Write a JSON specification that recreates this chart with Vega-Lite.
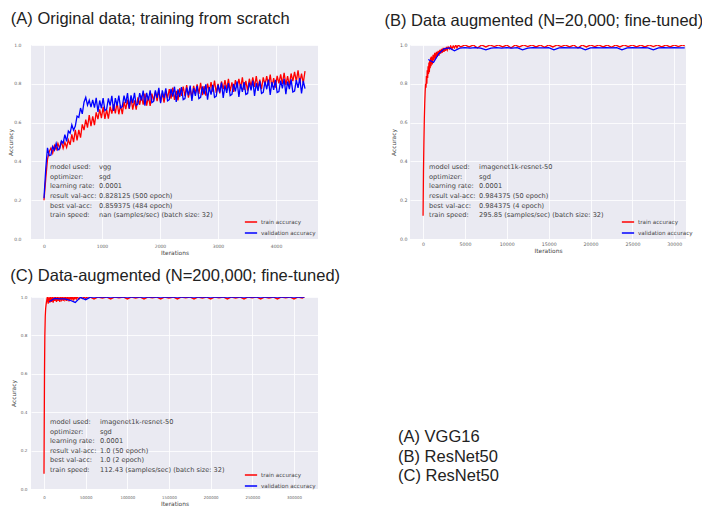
{
"$schema": "https://vega.github.io/schema/vega-lite/v6.json",
"background": "white",
"padding": {"left": 7, "top": 10, "right": 5, "bottom": 0},
"datasets": {
"A_train": [{"i":0,"a":0.20},{"i":30,"a":0.31},{"i":60,"a":0.41},{"i":90,"a":0.45},{"i":120,"a":0.469},{"i":150,"a":0.443},{"i":180,"a":0.482},{"i":210,"a":0.462},{"i":240,"a":0.493},{"i":270,"a":0.466},{"i":300,"a":0.503},{"i":330,"a":0.468},{"i":360,"a":0.498},{"i":390,"a":0.472},{"i":420,"a":0.511},{"i":450,"a":0.485},{"i":480,"a":0.539},{"i":510,"a":0.499},{"i":540,"a":0.563},{"i":570,"a":0.508},{"i":600,"a":0.562},{"i":630,"a":0.522},{"i":660,"a":0.591},{"i":690,"a":0.561},{"i":720,"a":0.615},{"i":750,"a":0.574},{"i":780,"a":0.639},{"i":810,"a":0.582},{"i":840,"a":0.632},{"i":870,"a":0.587},{"i":900,"a":0.653},{"i":930,"a":0.618},{"i":960,"a":0.668},{"i":990,"a":0.623},{"i":1020,"a":0.681},{"i":1050,"a":0.619},{"i":1080,"a":0.667},{"i":1110,"a":0.620},{"i":1140,"a":0.683},{"i":1170,"a":0.646},{"i":1200,"a":0.694},{"i":1230,"a":0.647},{"i":1260,"a":0.705},{"i":1290,"a":0.643},{"i":1320,"a":0.691},{"i":1350,"a":0.644},{"i":1380,"a":0.707},{"i":1410,"a":0.670},{"i":1440,"a":0.718},{"i":1470,"a":0.671},{"i":1500,"a":0.730},{"i":1530,"a":0.667},{"i":1560,"a":0.715},{"i":1590,"a":0.667},{"i":1620,"a":0.730},{"i":1650,"a":0.692},{"i":1680,"a":0.739},{"i":1710,"a":0.692},{"i":1740,"a":0.749},{"i":1770,"a":0.687},{"i":1800,"a":0.734},{"i":1830,"a":0.686},{"i":1860,"a":0.749},{"i":1890,"a":0.711},{"i":1920,"a":0.759},{"i":1950,"a":0.711},{"i":1980,"a":0.769},{"i":2010,"a":0.705},{"i":2040,"a":0.752},{"i":2070,"a":0.703},{"i":2100,"a":0.765},{"i":2130,"a":0.726},{"i":2160,"a":0.773},{"i":2190,"a":0.724},{"i":2220,"a":0.781},{"i":2250,"a":0.717},{"i":2280,"a":0.764},{"i":2310,"a":0.715},{"i":2340,"a":0.777},{"i":2370,"a":0.738},{"i":2400,"a":0.785},{"i":2430,"a":0.736},{"i":2460,"a":0.793},{"i":2490,"a":0.729},{"i":2520,"a":0.776},{"i":2550,"a":0.727},{"i":2580,"a":0.789},{"i":2610,"a":0.750},{"i":2640,"a":0.797},{"i":2670,"a":0.748},{"i":2700,"a":0.805},{"i":2730,"a":0.741},{"i":2760,"a":0.788},{"i":2790,"a":0.739},{"i":2820,"a":0.801},{"i":2850,"a":0.762},{"i":2880,"a":0.809},{"i":2910,"a":0.760},{"i":2940,"a":0.817},{"i":2970,"a":0.753},{"i":3000,"a":0.800},{"i":3030,"a":0.751},{"i":3060,"a":0.812},{"i":3090,"a":0.773},{"i":3120,"a":0.819},{"i":3150,"a":0.770},{"i":3180,"a":0.826},{"i":3210,"a":0.761},{"i":3240,"a":0.807},{"i":3270,"a":0.758},{"i":3300,"a":0.819},{"i":3330,"a":0.780},{"i":3360,"a":0.826},{"i":3390,"a":0.777},{"i":3420,"a":0.833},{"i":3450,"a":0.769},{"i":3480,"a":0.815},{"i":3510,"a":0.765},{"i":3540,"a":0.826},{"i":3570,"a":0.787},{"i":3600,"a":0.833},{"i":3630,"a":0.784},{"i":3660,"a":0.840},{"i":3690,"a":0.776},{"i":3720,"a":0.822},{"i":3750,"a":0.772},{"i":3780,"a":0.833},{"i":3810,"a":0.794},{"i":3840,"a":0.840},{"i":3870,"a":0.791},{"i":3900,"a":0.847},{"i":3930,"a":0.783},{"i":3960,"a":0.829},{"i":3990,"a":0.780},{"i":4020,"a":0.841},{"i":4050,"a":0.802},{"i":4080,"a":0.849},{"i":4110,"a":0.800},{"i":4140,"a":0.857},{"i":4170,"a":0.793},{"i":4200,"a":0.840},{"i":4230,"a":0.791},{"i":4260,"a":0.853},{"i":4290,"a":0.814},{"i":4320,"a":0.861},{"i":4350,"a":0.812},{"i":4380,"a":0.869},{"i":4410,"a":0.805},{"i":4440,"a":0.852},{"i":4470,"a":0.803},{"i":4500,"a":0.865}],
"A_val": [{"i":0,"a":0.21},{"i":30,"a":0.36},{"i":60,"a":0.47},{"i":90,"a":0.43},{"i":120,"a":0.433},{"i":150,"a":0.477},{"i":180,"a":0.458},{"i":210,"a":0.493},{"i":240,"a":0.459},{"i":270,"a":0.467},{"i":300,"a":0.505},{"i":330,"a":0.494},{"i":360,"a":0.538},{"i":390,"a":0.503},{"i":420,"a":0.556},{"i":450,"a":0.545},{"i":480,"a":0.589},{"i":510,"a":0.561},{"i":540,"a":0.582},{"i":570,"a":0.633},{"i":600,"a":0.627},{"i":630,"a":0.675},{"i":660,"a":0.645},{"i":690,"a":0.705},{"i":720,"a":0.73},{"i":750,"a":0.69},{"i":780,"a":0.715},{"i":810,"a":0.68},{"i":840,"a":0.717},{"i":870,"a":0.677},{"i":900,"a":0.728},{"i":930,"a":0.655},{"i":960,"a":0.714},{"i":990,"a":0.674},{"i":1020,"a":0.726},{"i":1050,"a":0.662},{"i":1080,"a":0.669},{"i":1110,"a":0.725},{"i":1140,"a":0.687},{"i":1170,"a":0.738},{"i":1200,"a":0.660},{"i":1230,"a":0.726},{"i":1260,"a":0.688},{"i":1290,"a":0.739},{"i":1320,"a":0.676},{"i":1350,"a":0.682},{"i":1380,"a":0.739},{"i":1410,"a":0.700},{"i":1440,"a":0.752},{"i":1470,"a":0.673},{"i":1500,"a":0.740},{"i":1530,"a":0.701},{"i":1560,"a":0.753},{"i":1590,"a":0.689},{"i":1620,"a":0.696},{"i":1650,"a":0.752},{"i":1680,"a":0.714},{"i":1710,"a":0.765},{"i":1740,"a":0.687},{"i":1770,"a":0.753},{"i":1800,"a":0.715},{"i":1830,"a":0.766},{"i":1860,"a":0.703},{"i":1890,"a":0.709},{"i":1920,"a":0.766},{"i":1950,"a":0.727},{"i":1980,"a":0.779},{"i":2010,"a":0.700},{"i":2040,"a":0.766},{"i":2070,"a":0.726},{"i":2100,"a":0.777},{"i":2130,"a":0.712},{"i":2160,"a":0.718},{"i":2190,"a":0.774},{"i":2220,"a":0.734},{"i":2250,"a":0.785},{"i":2280,"a":0.706},{"i":2310,"a":0.771},{"i":2340,"a":0.732},{"i":2370,"a":0.783},{"i":2400,"a":0.718},{"i":2430,"a":0.724},{"i":2460,"a":0.780},{"i":2490,"a":0.740},{"i":2520,"a":0.791},{"i":2550,"a":0.712},{"i":2580,"a":0.777},{"i":2610,"a":0.738},{"i":2640,"a":0.789},{"i":2670,"a":0.724},{"i":2700,"a":0.730},{"i":2730,"a":0.786},{"i":2760,"a":0.746},{"i":2790,"a":0.797},{"i":2820,"a":0.718},{"i":2850,"a":0.783},{"i":2880,"a":0.744},{"i":2910,"a":0.795},{"i":2940,"a":0.730},{"i":2970,"a":0.736},{"i":3000,"a":0.795},{"i":3030,"a":0.756},{"i":3060,"a":0.806},{"i":3090,"a":0.727},{"i":3120,"a":0.792},{"i":3150,"a":0.753},{"i":3180,"a":0.804},{"i":3210,"a":0.739},{"i":3240,"a":0.745},{"i":3270,"a":0.800},{"i":3300,"a":0.761},{"i":3330,"a":0.812},{"i":3360,"a":0.732},{"i":3390,"a":0.798},{"i":3420,"a":0.758},{"i":3450,"a":0.809},{"i":3480,"a":0.745},{"i":3510,"a":0.750},{"i":3540,"a":0.806},{"i":3570,"a":0.766},{"i":3600,"a":0.817},{"i":3630,"a":0.738},{"i":3660,"a":0.803},{"i":3690,"a":0.764},{"i":3720,"a":0.814},{"i":3750,"a":0.750},{"i":3780,"a":0.756},{"i":3810,"a":0.811},{"i":3840,"a":0.772},{"i":3870,"a":0.822},{"i":3900,"a":0.743},{"i":3930,"a":0.809},{"i":3960,"a":0.769},{"i":3990,"a":0.820},{"i":4020,"a":0.755},{"i":4050,"a":0.760},{"i":4080,"a":0.816},{"i":4110,"a":0.776},{"i":4140,"a":0.826},{"i":4170,"a":0.747},{"i":4200,"a":0.812},{"i":4230,"a":0.772},{"i":4260,"a":0.823},{"i":4290,"a":0.758},{"i":4320,"a":0.763},{"i":4350,"a":0.819},{"i":4380,"a":0.779},{"i":4410,"a":0.829},{"i":4440,"a":0.750},{"i":4470,"a":0.815},{"i":4500,"a":0.775}],
"B_train": [{"i":0,"a":0.12},{"i":50,"a":0.35},{"i":100,"a":0.5},{"i":150,"a":0.62},{"i":200,"a":0.70},{"i":250,"a":0.76},{"i":300,"a":0.80},{"i":350,"a":0.78},{"i":400,"a":0.84},{"i":450,"a":0.80},{"i":500,"a":0.87},{"i":550,"a":0.83},{"i":600,"a":0.89},{"i":650,"a":0.85},{"i":700,"a":0.91},{"i":750,"a":0.86},{"i":800,"a":0.92},{"i":850,"a":0.88},{"i":900,"a":0.935},{"i":950,"a":0.89},{"i":1000,"a":0.94},{"i":1100,"a":0.90},{"i":1200,"a":0.95},{"i":1300,"a":0.92},{"i":1400,"a":0.96},{"i":1500,"a":0.93},{"i":1600,"a":0.965},{"i":1700,"a":0.94},{"i":1800,"a":0.97},{"i":1900,"a":0.945},{"i":2000,"a":0.975},{"i":2100,"a":0.955},{"i":2200,"a":0.98},{"i":2300,"a":0.96},{"i":2400,"a":0.985},{"i":2500,"a":0.965},{"i":2600,"a":0.985},{"i":2700,"a":0.97},{"i":2800,"a":0.99},{"i":2900,"a":0.975},{"i":3000,"a":0.99},{"i":3150,"a":0.98},{"i":3300,"a":0.995},{"i":3450,"a":0.98},{"i":3600,"a":0.995},{"i":3750,"a":0.985},{"i":3900,"a":1.0},{"i":4050,"a":0.985},{"i":4200,"a":1.0},{"i":4500,"a":0.99},{"i":5000,"a":1.0},{"i":5500,"a":0.99},{"i":6000,"a":1.0},{"i":6500,"a":0.985},{"i":7000,"a":1.0},{"i":7500,"a":0.99},{"i":8000,"a":1.0},{"i":8500,"a":0.992},{"i":9000,"a":1.0},{"i":9500,"a":0.99},{"i":10000,"a":1.0},{"i":10500,"a":0.985},{"i":11000,"a":1.0},{"i":11500,"a":0.99},{"i":12000,"a":1.0},{"i":12500,"a":0.992},{"i":13000,"a":1.0},{"i":13500,"a":0.99},{"i":14000,"a":1.0},{"i":14500,"a":0.988},{"i":15000,"a":1.0},{"i":15500,"a":0.99},{"i":16000,"a":1.0},{"i":16500,"a":0.992},{"i":17000,"a":1.0},{"i":17500,"a":0.99},{"i":18000,"a":1.0},{"i":18500,"a":0.985},{"i":19000,"a":1.0},{"i":19500,"a":0.99},{"i":20000,"a":1.0},{"i":20500,"a":0.992},{"i":21000,"a":1.0},{"i":21500,"a":0.99},{"i":22000,"a":1.0},{"i":22500,"a":0.988},{"i":23000,"a":1.0},{"i":23500,"a":0.99},{"i":24000,"a":1.0},{"i":24500,"a":0.992},{"i":25000,"a":1.0},{"i":25500,"a":0.99},{"i":26000,"a":1.0},{"i":26500,"a":0.99},{"i":27000,"a":1.0},{"i":27500,"a":0.992},{"i":28000,"a":1.0},{"i":28500,"a":0.99},{"i":29000,"a":1.0},{"i":29500,"a":0.99},{"i":30000,"a":1.0},{"i":30500,"a":0.992},{"i":31000,"a":1.0},{"i":31250,"a":0.995}],
"B_val": [{"i":625,"a":0.925},{"i":1250,"a":0.91},{"i":1875,"a":0.955},{"i":2500,"a":0.98},{"i":3125,"a":0.985},{"i":3750,"a":0.97},{"i":4375,"a":0.984},{"i":5000,"a":0.986},{"i":5625,"a":0.984},{"i":6250,"a":0.986},{"i":6875,"a":0.984},{"i":7500,"a":0.975},{"i":8125,"a":0.984},{"i":8750,"a":0.986},{"i":9375,"a":0.984},{"i":10000,"a":0.986},{"i":10625,"a":0.984},{"i":11250,"a":0.986},{"i":11875,"a":0.975},{"i":12500,"a":0.984},{"i":13125,"a":0.986},{"i":13750,"a":0.985},{"i":14375,"a":0.985},{"i":15000,"a":0.986},{"i":15625,"a":0.975},{"i":16250,"a":0.985},{"i":16875,"a":0.986},{"i":17500,"a":0.985},{"i":18125,"a":0.985},{"i":18750,"a":0.986},{"i":19375,"a":0.975},{"i":20000,"a":0.985},{"i":20625,"a":0.986},{"i":21250,"a":0.985},{"i":21875,"a":0.986},{"i":22500,"a":0.985},{"i":23125,"a":0.986},{"i":23750,"a":0.975},{"i":24375,"a":0.985},{"i":25000,"a":0.986},{"i":25625,"a":0.985},{"i":26250,"a":0.986},{"i":26875,"a":0.985},{"i":27500,"a":0.975},{"i":28125,"a":0.985},{"i":28750,"a":0.986},{"i":29375,"a":0.985},{"i":30000,"a":0.986},{"i":30625,"a":0.985},{"i":31250,"a":0.985}],
"C_train": [{"i":0,"a":0.08},{"i":300,"a":0.35},{"i":600,"a":0.6},{"i":1000,"a":0.8},{"i":1500,"a":0.9},{"i":2000,"a":0.94},{"i":2500,"a":0.96},{"i":3000,"a":0.975},{"i":4000,"a":1.0},{"i":5000,"a":0.965},{"i":6000,"a":1.0},{"i":7000,"a":0.97},{"i":8000,"a":1.0},{"i":9000,"a":0.975},{"i":10000,"a":1.0},{"i":11000,"a":0.97},{"i":12000,"a":1.0},{"i":13000,"a":0.98},{"i":14000,"a":1.0},{"i":15000,"a":0.975},{"i":16000,"a":1.0},{"i":17000,"a":0.98},{"i":18000,"a":1.0},{"i":19000,"a":0.975},{"i":20000,"a":1.0},{"i":21000,"a":0.985},{"i":22000,"a":1.0},{"i":23000,"a":0.98},{"i":24000,"a":1.0},{"i":25000,"a":0.985},{"i":26000,"a":1.0},{"i":27000,"a":0.98},{"i":28000,"a":1.0},{"i":29000,"a":0.985},{"i":30000,"a":1.0},{"i":31000,"a":0.985},{"i":32000,"a":1.0},{"i":33000,"a":0.99},{"i":34000,"a":1.0},{"i":35000,"a":0.985},{"i":36000,"a":1.0},{"i":37000,"a":0.99},{"i":38000,"a":1.0},{"i":39000,"a":0.99},{"i":40000,"a":1.0},{"i":42000,"a":0.99},{"i":44000,"a":1.0},{"i":46000,"a":0.992},{"i":48000,"a":1.0},{"i":50000,"a":0.993},{"i":52000,"a":1.0},{"i":55000,"a":1.0},{"i":60000,"a":0.99},{"i":65000,"a":1.0},{"i":70000,"a":0.995},{"i":75000,"a":1.0},{"i":80000,"a":0.99},{"i":85000,"a":1.0},{"i":90000,"a":0.996},{"i":95000,"a":1.0},{"i":100000,"a":0.99},{"i":105000,"a":1.0},{"i":110000,"a":0.995},{"i":115000,"a":1.0},{"i":120000,"a":0.99},{"i":125000,"a":1.0},{"i":130000,"a":0.996},{"i":135000,"a":1.0},{"i":140000,"a":0.99},{"i":145000,"a":1.0},{"i":150000,"a":0.995},{"i":155000,"a":1.0},{"i":160000,"a":0.99},{"i":165000,"a":1.0},{"i":170000,"a":0.996},{"i":175000,"a":1.0},{"i":180000,"a":0.99},{"i":185000,"a":1.0},{"i":190000,"a":0.995},{"i":195000,"a":1.0},{"i":200000,"a":0.99},{"i":205000,"a":1.0},{"i":210000,"a":0.996},{"i":215000,"a":1.0},{"i":220000,"a":0.99},{"i":225000,"a":1.0},{"i":230000,"a":0.995},{"i":235000,"a":1.0},{"i":240000,"a":0.99},{"i":245000,"a":1.0},{"i":250000,"a":0.996},{"i":255000,"a":1.0},{"i":260000,"a":0.99},{"i":265000,"a":1.0},{"i":270000,"a":0.995},{"i":275000,"a":1.0},{"i":280000,"a":0.99},{"i":285000,"a":1.0},{"i":290000,"a":0.996},{"i":295000,"a":1.0},{"i":300000,"a":0.99},{"i":305000,"a":1.0},{"i":310000,"a":0.995},{"i":312500,"a":1.0}],
"C_val": [{"i":6250,"a":0.975},{"i":12500,"a":0.993},{"i":18750,"a":0.99},{"i":25000,"a":0.99},{"i":31250,"a":0.983},{"i":37500,"a":0.972},{"i":43750,"a":0.998},{"i":50000,"a":0.986},{"i":56250,"a":1.0},{"i":62500,"a":1.0},{"i":100000,"a":1.0},{"i":150000,"a":1.0},{"i":200000,"a":1.0},{"i":250000,"a":1.0},{"i":312500,"a":1.0}]
},
"spacing": 13,
"resolve": {"scale": {"color": "independent"}, "legend": {"color": "independent"}},
"vconcat": [
{
"hconcat": [
{
"width": 287, "height": 194,
"title": {"text": "(A) Original data; training from scratch", "anchor": "start", "frame": "bounds", "offset": 2, "dx": 3, "baseline": "alphabetic"},
"layer": [
{"data": {"name": "A_train"}, "mark": {"type": "line", "strokeWidth": 1.3, "clip": true},
 "encoding": {
  "x": {"field": "i", "type": "quantitative", "scale": {"domain": [-224, 4724], "nice": false, "zero": false},
        "axis": {"title": "Iterations", "values": [0, 1000, 2000, 3000, 4000], "tickCount": 50, "format": "d", "labelFontSize": 4.5, "titleFontSize": 5.9, "labelPadding": 4, "titlePadding": 1.5, "labelOverlap": false}},
  "y": {"field": "a", "type": "quantitative", "scale": {"domain": [0, 1], "nice": false},
        "axis": {"title": "Accuracy", "values": [0, 0.2, 0.4, 0.6, 0.8, 1], "tickCount": 50, "format": ".1f", "labelFontSize": 4.5, "titleFontSize": 5.9, "labelPadding": 10, "titlePadding": 0, "labelOverlap": false}},
  "color": {"datum": "train accuracy", "type": "nominal",
        "scale": {"domain": ["train accuracy", "validation accuracy"], "range": ["#ff0000", "#0000ff"]},
        "legend": {"orient": "none", "legendX": 213, "legendY": 170, "title": null, "symbolType": "stroke", "symbolStrokeWidth": 1.5, "symbolSize": 150, "labelFontSize": 5.6, "labelFont": "DejaVu Sans", "labelColor": "#444", "rowPadding": -5.5, "labelOffset": 3, "padding": 0}}
 }},
{"data": {"name": "A_val"}, "mark": {"type": "line", "strokeWidth": 1.3, "clip": true},
 "encoding": {"x": {"field": "i", "type": "quantitative"}, "y": {"field": "a", "type": "quantitative"}, "color": {"datum": "validation accuracy", "type": "nominal"}}},
{"data": {"values": [{}]}, "mark": {"type": "text", "text": ["model used:", "optimizer:", "learning rate:", "result val-acc:", "best val-acc:", "train speed:"], "align": "left", "baseline": "top", "font": "DejaVu Sans", "fontSize": 6.6, "lineHeight": 9.6, "color": "#444"},
 "encoding": {"x": {"datum": 103, "type": "quantitative"}, "y": {"datum": 0.386, "type": "quantitative"}}},
{"data": {"values": [{}]}, "mark": {"type": "text", "text": ["vgg", "sgd", "0.0001", "0.828125 (500 epoch)", "0.859375 (484 epoch)", "nan (samples/sec) (batch size: 32)"], "align": "left", "baseline": "top", "font": "DejaVu Sans", "fontSize": 6.6, "lineHeight": 9.6, "color": "#444"},
 "encoding": {"x": {"datum": 948, "type": "quantitative"}, "y": {"datum": 0.386, "type": "quantitative"}}}
]
},
{
"width": 276, "height": 194,
"title": {"text": "(B) Data augmented (N=20,000; fine-tuned)", "anchor": "start", "frame": "bounds", "offset": 0, "dx": -6, "baseline": "alphabetic"},
"layer": [
{"data": {"name": "B_train"}, "mark": {"type": "line", "strokeWidth": 1.3, "clip": true},
 "encoding": {
  "x": {"field": "i", "type": "quantitative", "scale": {"domain": [-1560, 31400], "nice": false, "zero": false},
        "axis": {"title": "Iterations", "values": [0, 5000, 10000, 15000, 20000, 25000, 30000], "tickCount": 50, "format": "d", "labelFontSize": 4.7, "titleFontSize": 5.9, "labelPadding": 2, "titlePadding": 2, "labelOverlap": false}},
  "y": {"field": "a", "type": "quantitative", "scale": {"domain": [0, 1], "nice": false},
        "axis": {"title": "Accuracy", "values": [0, 0.2, 0.4, 0.6, 0.8, 1], "tickCount": 50, "format": ".1f", "labelFontSize": 4.7, "titleFontSize": 5.9, "labelPadding": 3, "titlePadding": 3, "labelOverlap": false}},
  "color": {"datum": "train accuracy", "type": "nominal",
        "scale": {"domain": ["train accuracy", "validation accuracy"], "range": ["#ff0000", "#0000ff"]},
        "legend": {"orient": "none", "legendX": 211, "legendY": 170, "title": null, "symbolType": "stroke", "symbolStrokeWidth": 1.5, "symbolSize": 150, "labelFontSize": 5.6, "labelFont": "DejaVu Sans", "labelColor": "#444", "rowPadding": -5.5, "labelOffset": 3, "padding": 0}}
 }},
{"data": {"name": "B_val"}, "mark": {"type": "line", "strokeWidth": 1.3, "clip": true},
 "encoding": {"x": {"field": "i", "type": "quantitative"}, "y": {"field": "a", "type": "quantitative"}, "color": {"datum": "validation accuracy", "type": "nominal"}}},
{"data": {"values": [{}]}, "mark": {"type": "text", "text": ["model used:", "optimizer:", "learning rate:", "result val-acc:", "best val-acc:", "train speed:"], "align": "left", "baseline": "top", "font": "DejaVu Sans", "fontSize": 6.6, "lineHeight": 9.6, "color": "#444"},
 "encoding": {"x": {"datum": 717, "type": "quantitative"}, "y": {"datum": 0.386, "type": "quantitative"}}},
{"data": {"values": [{}]}, "mark": {"type": "text", "text": ["imagenet1k-resnet-50", "sgd", "0.0001", "0.984375 (50 epoch)", "0.984375 (4 epoch)", "295.85 (samples/sec) (batch size: 32)"], "align": "left", "baseline": "top", "font": "DejaVu Sans", "fontSize": 6.6, "lineHeight": 9.6, "color": "#444"},
 "encoding": {"x": {"datum": 6690, "type": "quantitative"}, "y": {"datum": 0.386, "type": "quantitative"}}}
]
}
],
"spacing": 92,
"bounds": "flush",
"resolve": {"scale": {"color": "independent"}, "legend": {"color": "independent"}}
},
{
"hconcat": [
{
"width": 287, "height": 192,
"title": {"text": "(C) Data-augmented (N=200,000; fine-tuned)", "anchor": "start", "frame": "bounds", "offset": -2.5, "baseline": "alphabetic"},
"layer": [
{"data": {"name": "C_train"}, "mark": {"type": "line", "strokeWidth": 1.3, "clip": true},
 "encoding": {
  "x": {"field": "i", "type": "quantitative", "scale": {"domain": [-15600, 328800], "nice": false, "zero": false},
        "axis": {"title": "Iterations", "values": [0, 50000, 100000, 150000, 200000, 250000, 300000], "tickCount": 50, "format": "d", "labelFontSize": 3.9, "titleFontSize": 5.9, "labelPadding": 6, "titlePadding": 2, "labelOverlap": false}},
  "y": {"field": "a", "type": "quantitative", "scale": {"domain": [0, 1], "nice": false},
        "axis": {"title": "Accuracy", "values": [0, 0.2, 0.4, 0.6, 0.8, 1], "tickCount": 50, "format": ".1f", "labelFontSize": 4.2, "titleFontSize": 5.9, "labelPadding": 4, "titlePadding": 4, "labelOverlap": false}},
  "color": {"datum": "train accuracy", "type": "nominal",
        "scale": {"domain": ["train accuracy", "validation accuracy"], "range": ["#ff0000", "#0000ff"]},
        "legend": {"orient": "none", "legendX": 213, "legendY": 171, "title": null, "symbolType": "stroke", "symbolStrokeWidth": 1.5, "symbolSize": 150, "labelFontSize": 5.6, "labelFont": "DejaVu Sans", "labelColor": "#444", "rowPadding": -6, "labelOffset": 3, "padding": 0}}
 }},
{"data": {"name": "C_val"}, "mark": {"type": "line", "strokeWidth": 1.3, "clip": true},
 "encoding": {"x": {"field": "i", "type": "quantitative"}, "y": {"field": "a", "type": "quantitative"}, "color": {"datum": "validation accuracy", "type": "nominal"}}},
{"data": {"values": [{}]}, "mark": {"type": "text", "text": ["model used:", "optimizer:", "learning rate:", "result val-acc:", "best val-acc:", "train speed:"], "align": "left", "baseline": "top", "font": "DejaVu Sans", "fontSize": 6.6, "lineHeight": 9.6, "color": "#444"},
 "encoding": {"x": {"datum": 7200, "type": "quantitative"}, "y": {"datum": 0.365, "type": "quantitative"}}},
{"data": {"values": [{}]}, "mark": {"type": "text", "text": ["imagenet1k-resnet-50", "sgd", "0.0001", "1.0 (50 epoch)", "1.0 (2 epoch)", "112.43 (samples/sec) (batch size: 32)"], "align": "left", "baseline": "top", "font": "DejaVu Sans", "fontSize": 6.6, "lineHeight": 9.6, "color": "#444"},
 "encoding": {"x": {"datum": 67200, "type": "quantitative"}, "y": {"datum": 0.365, "type": "quantitative"}}}
]
},
{
"width": 150, "height": 192,
"view": {"fill": null, "stroke": null},
"data": {"values": [{}]},
"mark": {"type": "text", "text": ["(A) VGG16", "(B) ResNet50", "(C) ResNet50"], "align": "left", "baseline": "alphabetic", "font": "Liberation Sans", "fontSize": 16.5, "lineHeight": 19.2, "color": "#222"},
"encoding": {
 "x": {"datum": 0, "type": "quantitative", "scale": {"domain": [0, 1]}, "axis": null},
 "y": {"datum": 0.243, "type": "quantitative", "scale": {"domain": [0, 1]}, "axis": null}
}
}
],
"spacing": 80,
"bounds": "flush",
"resolve": {"scale": {"color": "independent"}, "legend": {"color": "independent"}}
}
],
"config": {
 "view": {"fill": "#EAEAF2", "stroke": null},
 "axis": {"domain": false, "ticks": false, "tickSize": 0, "grid": true, "gridColor": "#ffffff", "gridWidth": 0.8, "labelFont": "DejaVu Sans", "titleFont": "DejaVu Sans", "labelColor": "#666666", "titleColor": "#444444", "titleFontWeight": "normal", "labelFlush": false, "labelOverlap": false, "labelBound": false},
 "title": {"font": "Liberation Sans", "fontSize": 16.5, "fontWeight": "normal", "color": "#222222"}
}
}
